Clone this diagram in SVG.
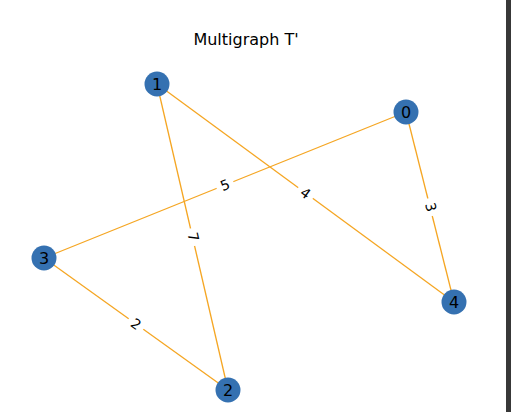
<svg xmlns="http://www.w3.org/2000/svg" width="511" height="412" viewBox="0 0 511 412">
<style>
.edge{stroke:#f5a623;stroke-width:1.3;fill:none}
.node circle{fill:#3571b1}
.node text{font-family:"DejaVu Sans",sans-serif;font-size:16px;fill:#000;text-anchor:middle;dominant-baseline:central}
.el rect{fill:#fff}
.el text{font-family:"DejaVu Sans",sans-serif;font-size:14px;fill:#000;text-anchor:middle;dominant-baseline:central}
.title{font-family:"DejaVu Sans",sans-serif;font-size:16px;fill:#000;text-anchor:middle}
</style>
<rect x="0" y="0" width="511" height="412" fill="#fff"/>
<rect x="506" y="0" width="5" height="412" fill="#383838"/>
<text class="title" x="246" y="45">Multigraph T'</text>
<g id="edges">
<line class="edge" x1="406" y1="112" x2="44" y2="258"/>
<line class="edge" x1="157" y1="84" x2="454" y2="302"/>
<line class="edge" x1="157" y1="84" x2="228" y2="390"/>
<line class="edge" x1="406" y1="112" x2="454" y2="302"/>
<line class="edge" x1="44" y1="258" x2="228" y2="390"/>
<g class="el" transform="translate(225,185) rotate(-21.97)"><rect x="-9" y="-8" width="18" height="16"/><text x="0" y="0">5</text></g>
<g class="el" transform="translate(305.5,193) rotate(36.28)"><rect x="-9" y="-8" width="18" height="16"/><text x="0" y="0">4</text></g>
<g class="el" transform="translate(193.5,237) rotate(76.94)"><rect x="-9" y="-8" width="18" height="16"/><text x="0" y="0">7</text></g>
<g class="el" transform="translate(431,207) rotate(75.82)"><rect x="-9" y="-8" width="18" height="16"/><text x="0" y="0">3</text></g>
<g class="el" transform="translate(136,324) rotate(35.66)"><rect x="-9" y="-8" width="18" height="16"/><text x="0" y="0">2</text></g>
</g>
<g id="node0" class="node"><circle cx="406" cy="112" r="12.5"/><text x="406" y="112">0</text></g>
<g id="node1" class="node"><circle cx="157" cy="84" r="12.5"/><text x="157" y="84">1</text></g>
<g id="node2" class="node"><circle cx="228" cy="390" r="12.5"/><text x="228" y="390">2</text></g>
<g id="node3" class="node"><circle cx="44" cy="258" r="12.5"/><text x="44" y="258">3</text></g>
<g id="node4" class="node"><circle cx="454" cy="302" r="12.5"/><text x="454" y="302">4</text></g>
</svg>
